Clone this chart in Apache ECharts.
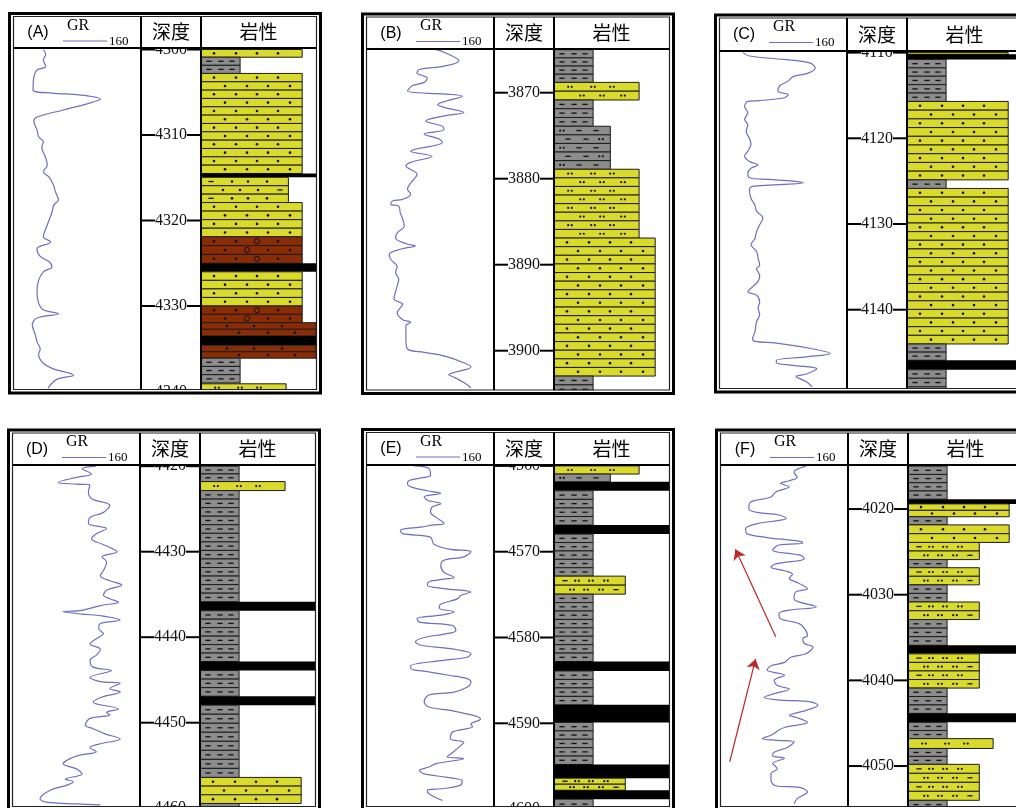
<!DOCTYPE html>
<html>
<head>
<meta charset="utf-8">
<title>GR logs</title>
<script src="https://cdn.jsdelivr.net/npm/echarts@6.0.0/dist/echarts.min.js"></script>
<style>
html, body { margin: 0; padding: 0; background: #fff; }
#logs { width: 1016px; height: 808px; }
</style>
</head>
<body>
<div id="logs"></div>
<script>
// GR curves: depth (m) and GR reading (0-160 scale)
const A_depth = [4300.0,4300.6,4301.2,4302.0,4302.4,4303.2,4304.7,4305.1,4305.3,4305.8,4306.3,4307.1,4307.9,4308.4,4309.4,4310.2,4310.8,4311.4,4312.7,4313.5,4314.3,4314.9,4315.9,4316.6,4317.6,4318.2,4319.0,4320.5,4321.9,4322.5,4323.3,4324.2,4324.8,4325.4,4326.0,4327.0,4328.3,4330.3,4330.9,4331.4,4332.2,4333.4,4334.2,4335.0,4335.7,4336.7,4337.3,4338.1,4338.5,4339.0,4339.6];
const A_gr = [37,40,37,40,29,25,24,48,82,109,94,61,29,25,29,31,37,35,40,42,37,44,50,52,56,50,48,42,37,46,29,33,44,48,37,31,29,35,56,29,23,27,29,33,31,37,48,75,56,48,43];

const B_depth = [3865.0,3865.3,3866.3,3866.9,3867.3,3867.7,3868.3,3868.8,3869.2,3869.8,3870.4,3871.4,3871.7,3872.3,3872.7,3873.3,3873.9,3874.3,3874.8,3875.4,3875.8,3876.8,3877.4,3878.1,3878.5,3879.5,3880.5,3881.2,3881.8,3882.4,3882.6,3883.0,3883.2,3884.0,3884.7,3885.5,3886.3,3886.9,3887.6,3887.8,3888.2,3888.8,3889.4,3890.2,3890.9,3891.7,3892.5,3894.0,3894.6,3895.6,3896.4,3896.7,3897.1,3898.7,3899.8,3900.2,3900.6,3901.4,3901.9,3902.8,3903.1,3903.7,3904.3];
const B_gr = [87,97,116,97,66,63,76,72,57,51,120,89,97,122,97,74,95,97,72,91,95,55,82,55,49,63,55,51,55,45,32,30,40,42,45,47,38,36,51,61,42,28,30,38,36,40,38,34,45,38,45,55,49,49,51,72,97,122,131,103,110,122,131];

const C_depth = [4110.0,4110.4,4110.8,4111.2,4111.8,4112.4,4112.8,4113.3,4113.9,4114.5,4114.9,4115.3,4115.6,4115.7,4116.3,4117.0,4117.8,4118.4,4119.2,4120.0,4120.7,4121.5,4122.1,4122.7,4123.1,4123.5,4124.1,4124.6,4124.8,4125.0,4125.2,4125.6,4126.0,4127.0,4127.8,4128.5,4129.3,4130.1,4130.9,4131.7,4132.4,4133.2,4134.0,4134.8,4135.2,4136.0,4136.7,4137.5,4137.9,4138.3,4139.1,4139.8,4140.6,4141.4,4142.6,4143.4,4143.7,4143.9,4144.5,4145.1,4145.5,4145.9,4146.2,4146.5,4146.9,4147.5,4147.8,4148.4,4149.0];
const C_gr = [29,37,80,113,120,111,92,86,75,73,86,80,50,35,31,35,31,35,33,37,39,35,31,37,48,39,35,37,61,92,105,41,37,39,44,46,54,50,46,44,39,46,48,50,46,50,48,39,35,46,50,48,50,46,44,41,44,71,113,139,109,71,71,92,122,109,96,109,116];

const D_depth = [4420.0,4420.3,4420.9,4421.3,4421.9,4422.1,4422.2,4423.0,4423.8,4424.6,4425.4,4426.0,4426.7,4427.3,4427.9,4428.5,4429.1,4429.5,4430.0,4430.6,4431.2,4432.2,4432.8,4433.4,4433.9,4434.5,4435.1,4435.5,4435.9,4436.3,4436.9,4437.0,4437.3,4437.5,4438.0,4438.4,4439.0,4439.6,4440.0,4440.8,4441.4,4442.1,4442.7,4443.5,4443.9,4444.7,4445.2,4445.4,4446.0,4446.4,4447.0,4447.6,4448.4,4448.8,4449.1,4449.5,4450.3,4450.7,4451.3,4451.9,4452.5,4452.9,4453.4,4453.8,4454.2,4454.8,4455.4,4456.0,4456.6,4456.9,4457.3,4457.9,4458.9,4459.3,4459.5,4459.6];
const D_gr = [105,87,99,80,57,80,97,95,99,122,114,97,95,118,105,99,112,122,131,112,118,114,110,122,137,118,114,122,133,110,84,63,87,112,135,110,108,114,108,97,110,105,97,101,124,97,110,135,122,135,112,101,133,118,122,97,91,101,116,135,108,97,105,84,72,63,80,87,66,76,68,47,34,42,80,110];

const E_depth = [4560.0,4560.3,4561.1,4561.3,4561.7,4562.1,4562.5,4562.9,4563.2,4563.6,4564.0,4564.4,4564.8,4565.4,4566.0,4566.7,4566.9,4567.1,4567.5,4567.9,4568.3,4569.1,4569.7,4570.0,4570.6,4571.0,4571.6,4572.4,4573.0,4573.2,4573.5,4573.9,4574.3,4574.7,4575.1,4575.5,4576.1,4576.6,4577.0,4577.4,4577.8,4578.2,4578.6,4579.2,4579.6,4580.0,4580.5,4580.9,4581.3,4581.9,4582.3,4582.7,4583.3,4583.6,4584.0,4584.4,4584.8,4585.2,4585.8,4586.4,4586.7,4587.5,4588.1,4588.5,4589.1,4589.5,4590.1,4590.4,4591.0,4591.8,4592.2,4592.6,4593.4,4593.9,4594.1,4594.7,4595.1,4595.5,4595.9,4596.3,4596.7,4597.2,4597.6,4597.8,4598.2,4599.0];
const E_gr = [59,78,80,74,53,51,57,76,93,72,76,93,82,80,87,97,82,70,42,45,80,84,103,131,122,97,93,97,110,97,78,76,97,131,118,114,93,91,110,93,63,66,108,112,97,72,61,68,105,131,126,93,55,55,78,103,126,131,126,108,78,72,78,105,135,143,131,133,108,105,122,118,108,101,122,87,78,66,72,101,120,118,97,76,78,95];

const F_depth = [4015.0,4015.7,4016.3,4016.7,4017.0,4017.4,4018.0,4018.6,4019.2,4020.0,4020.4,4020.7,4021.1,4021.3,4021.7,4022.3,4022.9,4023.3,4023.8,4024.0,4024.2,4024.8,4025.4,4025.8,4026.4,4026.8,4027.2,4027.6,4028.1,4028.5,4028.9,4029.3,4029.7,4030.5,4031.4,4031.8,4032.2,4032.8,4033.4,4034.2,4034.8,4035.1,4035.7,4036.1,4036.9,4037.3,4037.9,4038.3,4038.8,4039.4,4040.0,4040.6,4041.0,4041.6,4042.0,4042.3,4042.5,4042.9,4043.5,4044.1,4044.3,4044.9,4045.5,4045.8,4046.4,4046.8,4047.0,4047.2,4047.8,4048.4,4048.8,4049.1,4049.7,4050.3,4050.9,4051.7,4052.3,4052.5,4053.0,4053.8,4054.4];
const F_gr = [107,92,96,86,75,86,69,63,37,35,46,73,82,75,46,31,33,56,101,103,73,65,101,105,69,63,80,90,86,94,103,109,94,92,120,86,73,75,99,107,109,103,105,116,107,88,80,63,58,80,67,71,86,65,54,75,113,122,107,86,94,109,80,73,63,52,71,92,84,67,65,80,65,71,63,63,69,99,109,96,92];

// trend arrows drawn on log F: [fromGR, fromDepth, toGR, toDepth]
const F_arrows = [[68.9, 4034.9, 18.2, 4024.7], [11.0, 4049.5, 43.6, 4037.5]];

// depth ticks (every 10 m) for each log
const A_ticks = [4300, 4310, 4320, 4330, 4340];
const B_ticks = [3870, 3880, 3890, 3900];
const C_ticks = [4110, 4120, 4130, 4140, 4150];
const D_ticks = [4420, 4430, 4440, 4450, 4460];
const E_ticks = [4560, 4570, 4580, 4590, 4600];
const F_ticks = [4020, 4030, 4040, 4050];

// lithology layers: [top, bottom, kind]
const A_layers = [
  [4300.0, 4300.9, 'fs'], [4300.9, 4302.8, 'mud'], [4302.8, 4314.5, 'fs'], [4314.5, 4314.95, 'coal'],
  [4314.95, 4317.9, 'mfs'], [4317.9, 4321.9, 'fs'], [4321.9, 4325.0, 'cg'], [4325.0, 4326.0, 'coal'],
  [4326.0, 4330.0, 'fs'], [4330.0, 4331.95, 'cg'], [4331.95, 4333.5, 'cs'], [4333.5, 4334.6, 'coal'],
  [4334.6, 4336.1, 'cs'], [4336.1, 4339.0, 'mud'], [4339.1, 4340.0, 'silt']
];
const B_layers = [
  [3865.0, 3868.8, 'mud'], [3868.8, 3870.85, 'silt'], [3870.85, 3873.9, 'mud'], [3873.9, 3878.9, 'smud'],
  [3878.9, 3886.9, 'silt'], [3886.9, 3902.95, 'fs'], [3902.95, 3905.0, 'mud']
];
const C_layers = [
  [4110.0, 4110.2, 'fs'], [4110.2, 4110.8, 'coal'], [4110.8, 4115.7, 'mud'], [4115.7, 4124.85, 'fs'],
  [4124.85, 4125.85, 'mud'], [4125.85, 4144.0, 'fs'], [4144.0, 4145.9, 'mud'], [4145.9, 4147.0, 'coal'],
  [4147.0, 4150.0, 'mud']
];
const D_layers = [
  [4420.0, 4421.8, 'mud'], [4421.8, 4422.85, 'silt'], [4422.85, 4435.85, 'mud'], [4435.85, 4436.9, 'coal'],
  [4436.9, 4442.85, 'mud'], [4442.85, 4443.9, 'coal'], [4443.9, 4446.9, 'mud'], [4446.9, 4447.95, 'coal'],
  [4447.95, 4456.4, 'mud'], [4456.4, 4459.45, 'fs'], [4459.45, 4460.0, 'mud']
];
const E_layers = [
  [4560.0, 4560.95, 'silt'], [4560.95, 4561.85, 'smud'], [4561.85, 4562.9, 'coal'], [4562.9, 4566.9, 'mud'],
  [4566.9, 4567.95, 'coal'], [4567.95, 4572.85, 'mud'], [4572.85, 4574.95, 'asilt'], [4574.95, 4582.8, 'mud'],
  [4582.8, 4583.9, 'coal'], [4583.9, 4587.85, 'mud'], [4587.85, 4589.9, 'coal'], [4589.9, 4594.8, 'mud'],
  [4594.8, 4596.4, 'coal'], [4596.4, 4597.8, 'asilt'], [4597.8, 4598.85, 'coal'], [4598.85, 4600.0, 'mud']
];
const F_layers = [
  [4015.0, 4018.85, 'mud'], [4018.85, 4019.4, 'coal'], [4019.4, 4020.9, 'fs'], [4020.9, 4021.85, 'mud'],
  [4021.85, 4023.9, 'fs'], [4023.9, 4025.9, 'asilt'], [4025.9, 4026.85, 'mud'], [4026.85, 4028.85, 'asilt'],
  [4028.85, 4030.85, 'mud'], [4030.85, 4032.9, 'asilt'], [4032.9, 4035.9, 'mud'], [4035.9, 4036.9, 'coal'],
  [4036.9, 4040.9, 'asilt'], [4040.9, 4043.85, 'mud'], [4043.85, 4044.9, 'coal'], [4044.9, 4046.8, 'mud'],
  [4046.8, 4047.95, 'silt'], [4047.95, 4049.8, 'mud'], [4049.8, 4054.0, 'asilt'], [4054.0, 4055.0, 'mud']
];

// lithology look: fill, grain-size width (0-100), symbol rows (d=dot p=double dot l=dash o=pebble, px offset)
const YEL = '#dada2c', GRY = '#8c8c8c', BRN = '#8a2c06';
const LITH = {
  mud:   { fill: GRY, grain: 34,  rows: [['l8', 'l20', 'l31'], ['l8', 'l20', 'l31']] },
  smud:  { fill: GRY, grain: 49,  rows: [['p8', 'l25', 'l42'], ['l14', 'l32', 'p47']] },
  asilt: { fill: YEL, grain: 62,  rows: [['l11', 'p23', 'p37', 'p52'], ['p18', 'p32', 'p47', 'l62']] },
  silt:  { fill: YEL, grain: 74,  rows: [['p16', 'p39', 'p58'], ['p28', 'p48', 'p69']] },
  mfs:   { fill: YEL, grain: 76,  rows: [['l10', 'd31', 'd47', 'd66'], ['d22', 'd39', 'd57', 'l79']] },
  fs:    { fill: YEL, grain: 88,  rows: [['d13', 'd35', 'd56', 'd77'], ['d24', 'd46', 'd67', 'd89']] },
  cg:    { fill: BRN, grain: 88,  rows: [['d13', 'd35', 'o56', 'd77'], ['d24', 'o46', 'd67', 'd89']] },
  cs:    { fill: BRN, grain: 100, rows: [['d26', 'd53', 'd81'], ['d38', 'd67', 'd94']] },
  coal:  { fill: '#000', grain: 100, rows: [[], []] }
};
const KIND_LIST = Object.keys(LITH);
const GR_COLOR = '#6e6ec2';

function addMark(code, x0, cy, w, out) {
  const t = code[0], dx = +code.slice(1);
  if (dx > w - 3) return;
  const x = x0 + dx;
  if (t === 'd') {
    out.push({ type: 'circle', shape: { cx: x, cy: cy, r: 1.3 }, style: { fill: '#111' } });
  } else if (t === 'p') {
    out.push({ type: 'circle', shape: { cx: x - 1.8, cy: cy, r: 1.1 }, style: { fill: '#111' } });
    out.push({ type: 'circle', shape: { cx: x + 1.8, cy: cy, r: 1.1 }, style: { fill: '#111' } });
  } else if (t === 'l') {
    out.push({ type: 'line', shape: { x1: x - 2.6, y1: cy, x2: x + 2.6, y2: cy }, style: { stroke: '#111', lineWidth: 1.3 } });
  } else if (t === 'o') {
    out.push({ type: 'circle', shape: { cx: x, cy: cy, r: 2.6 }, style: { fill: 'none', stroke: '#111', lineWidth: 1 } });
  }
}

function renderLayer(params, api) {
  const top = api.value(0), bot = api.value(1);
  const kind = KIND_LIST[api.value(2)];
  const st = LITH[kind];
  const a = api.coord([0, top]), b = api.coord([st.grain, bot]);
  const x0 = a[0], w = b[0] - a[0], y0 = a[1], h = b[1] - a[1];
  if (kind === 'coal') {
    return { type: 'rect', shape: { x: x0, y: y0, width: w, height: h }, style: { fill: '#000' } };
  }
  let n = Math.max(1, Math.round(bot - top));
  if (kind === 'asilt') n = Math.max(2, n);
  const sh = h / n, kids = [];
  for (let i = 0; i < n; i++) {
    const y = y0 + i * sh;
    kids.push({ type: 'rect', shape: { x: x0, y: y, width: w, height: sh },
      style: { fill: st.fill, stroke: '#1c1c1c', lineWidth: 1 } });
    if (sh < 5) continue;
    st.rows[i % 2].forEach(c => addMark(c, x0, y + sh / 2, w, kids));
  }
  return { type: 'group', children: kids };
}

// short dashes from both walls of the depth column at each tick
function renderTick(params, api) {
  const y = api.coord([0, api.value(0)])[1];
  const cs = params.coordSys;
  return {
    type: 'group',
    children: [
      { type: 'line', shape: { x1: cs.x, y1: y, x2: cs.x + 14, y2: y }, style: { stroke: '#000', lineWidth: 2 } },
      { type: 'line', shape: { x1: cs.x + cs.width - 14, y1: y, x2: cs.x + cs.width, y2: y }, style: { stroke: '#000', lineWidth: 2 } }
    ]
  };
}

// panel layout: gx = left of GR column, y0 = pixel of min depth, ppm = pixels per metre
const PANELS = [
  { tag: '(A)', depth: A_depth, gr: A_gr, layers: A_layers, ticks: A_ticks, min: 4300, max: 4340, gx: 14,  y0: 49.5,  ppm: 8.55,  hdrTop: 16.5, hdrBot: 48, plotB: 389.5 },
  { tag: '(B)', depth: B_depth, gr: B_gr, layers: B_layers, ticks: B_ticks, min: 3865, max: 3905, gx: 367, y0: 49.7,  ppm: 8.6,   hdrTop: 17,   hdrBot: 49, plotB: 390 },
  { tag: '(C)', depth: C_depth, gr: C_gr, layers: C_layers, ticks: C_ticks, min: 4110, max: 4150, gx: 720, y0: 52.6,  ppm: 8.57,  hdrTop: 18,   hdrBot: 51, plotB: 388.5 },
  { tag: '(D)', depth: D_depth, gr: D_gr, layers: D_layers, ticks: D_ticks, min: 4420, max: 4460, gx: 13,  y0: 466.2, ppm: 8.55,  hdrTop: 433,  hdrBot: 465, plotB: 806.5 },
  { tag: '(E)', depth: E_depth, gr: E_gr, layers: E_layers, ticks: E_ticks, min: 4560, max: 4600, gx: 367, y0: 465.9, ppm: 8.58,  hdrTop: 432.5, hdrBot: 465, plotB: 806.5 },
  { tag: '(F)', depth: F_depth, gr: F_gr, layers: F_layers, ticks: F_ticks, min: 4015, max: 4055, gx: 721, y0: 466.2, ppm: 8.567, hdrTop: 433,  hdrBot: 465, plotB: 806.5 }
];

const grid = [], xAxis = [], yAxis = [], series = [], elements = [];

PANELS.forEach((p, i) => {
  const k = i * 3;
  const h = (p.max - p.min) * p.ppm;
  const dmin = Math.floor(p.min / 10) * 10, dmax = Math.ceil(p.max / 10) * 10;
  const hidden = { show: false };

  grid.push({ left: p.gx, top: p.y0, width: 127, height: h, containLabel: false, outerBoundsMode: 'none' });
  grid.push({ left: p.gx + 127, top: p.y0 - (p.min - dmin) * p.ppm, width: 60, height: (dmax - dmin) * p.ppm, containLabel: false, outerBoundsMode: 'none' });
  grid.push({ left: p.gx + 187, top: p.y0, width: 115, height: h, containLabel: false, outerBoundsMode: 'none' });

  // GR track
  xAxis.push(Object.assign({ gridIndex: k, type: 'value', min: 0, max: 160 }, hidden));
  yAxis.push(Object.assign({ gridIndex: k, type: 'value', min: p.min, max: p.max, inverse: true }, hidden));

  // depth track: label in the middle of the column
  xAxis.push(Object.assign({ gridIndex: k + 1, type: 'value', min: 0, max: 1 }, hidden));
  yAxis.push({
    gridIndex: k + 1, type: 'value', min: dmin, max: dmax, interval: 10, inverse: true,
    axisLine: { show: false }, axisTick: { show: false }, splitLine: { show: false },
    axisLabel: {
      inside: true, margin: 30, align: 'center',
      fontFamily: 'Liberation Serif', fontSize: 16, color: '#111',
      formatter: v => (v < p.min || v > p.max) ? '' : String(v)
    }
  });

  // lithology track
  xAxis.push(Object.assign({ gridIndex: k + 2, type: 'value', min: 0, max: 100 }, hidden));
  yAxis.push(Object.assign({ gridIndex: k + 2, type: 'value', min: p.min, max: p.max, inverse: true }, hidden));

  const line = {
    type: 'line', xAxisIndex: k, yAxisIndex: k, silent: true, z: 3,
    data: p.depth.map((d, j) => [p.gr[j], d]),
    symbol: 'none', smooth: 0.35,
    lineStyle: { color: GR_COLOR, width: 1.2 }
  };
  if (p.tag === '(F)') {
    line.markLine = {
      silent: true, symbol: ['none', 'arrow'], symbolSize: 10, animation: false,
      label: { show: false },
      lineStyle: { color: '#b82a2a', width: 1.2, type: 'solid' },
      data: F_arrows.map(a => [{ coord: [a[0], a[1]] }, { coord: [a[2], a[3]] }])
    };
  }
  series.push(line);
  series.push({
    type: 'custom', xAxisIndex: k + 1, yAxisIndex: k + 1, silent: true, z: 50,
    renderItem: renderTick,
    encode: { y: 0 },
    data: p.ticks.map(t => [t])
  });
  series.push({
    type: 'custom', xAxisIndex: k + 2, yAxisIndex: k + 2, silent: true,
    renderItem: renderLayer,
    encode: { y: [0, 1] },
    data: p.layers.map(l => [l[0], l[1], KIND_LIST.indexOf(l[2])])
  });

  // white covers for label overflow, then frame and header on top
  const L = p.gx - 0.5, R = p.gx + 302.5;
  elements.push(
    { type: 'rect', z: 90, shape: { x: p.gx - 8, y: p.hdrTop - 38, width: 322, height: 35 }, style: { fill: '#fff' } },
    { type: 'rect', z: 90, shape: { x: p.gx - 8, y: p.plotB + 0.5, width: 322, height: 38 }, style: { fill: '#fff' } },
    { type: 'rect', z: 90, shape: { x: p.gx, y: p.hdrTop, width: 302, height: p.hdrBot - p.hdrTop }, style: { fill: '#fff' } },
    { type: 'rect', z: 100, shape: { x: p.gx - 4.5, y: p.hdrTop - 3, width: 311, height: p.plotB - p.hdrTop + 6.5 }, style: { fill: 'none', stroke: '#000', lineWidth: 3 } },
    { type: 'rect', z: 100, shape: { x: L, y: p.hdrTop, width: R - L, height: p.plotB - p.hdrTop }, style: { fill: 'none', stroke: '#222', lineWidth: 1.2 } },
    { type: 'line', z: 100, shape: { x1: L, y1: p.hdrBot, x2: R, y2: p.hdrBot }, style: { stroke: '#000', lineWidth: 2 } },
    { type: 'line', z: 100, shape: { x1: p.gx + 127, y1: p.hdrTop, x2: p.gx + 127, y2: p.plotB }, style: { stroke: '#000', lineWidth: 2 } },
    { type: 'line', z: 100, shape: { x1: p.gx + 187, y1: p.hdrTop, x2: p.gx + 187, y2: p.plotB }, style: { stroke: '#000', lineWidth: 2 } },
    { type: 'line', z: 100, shape: { x1: p.gx + 49, y1: p.hdrTop + 24.5, x2: p.gx + 93, y2: p.hdrTop + 24.5 }, style: { stroke: GR_COLOR, lineWidth: 1 } },
    { type: 'text', z: 100, x: p.gx + 24, y: p.hdrTop + 16.5,
      style: { text: p.tag, font: '16px "Liberation Sans"', fill: '#000', textAlign: 'center', textVerticalAlign: 'middle' } },
    { type: 'text', z: 100, x: p.gx + 53, y: p.hdrTop + 9,
      style: { text: 'GR', font: '16px "Liberation Serif"', fill: '#000', textAlign: 'left', textVerticalAlign: 'middle' } },
    { type: 'text', z: 100, x: p.gx + 95, y: p.hdrTop + 25,
      style: { text: '160', font: '13px "Liberation Serif"', fill: '#000', textAlign: 'left', textVerticalAlign: 'middle' } },
    { type: 'text', z: 100, x: p.gx + 157, y: (p.hdrTop + p.hdrBot) / 2,
      style: { text: '深度', font: '19px "Noto Sans CJK SC"', fill: '#000', textAlign: 'center', textVerticalAlign: 'middle' } },
    { type: 'text', z: 100, x: p.gx + 244.5, y: (p.hdrTop + p.hdrBot) / 2,
      style: { text: '岩性', font: '19px "Noto Sans CJK SC"', fill: '#000', textAlign: 'center', textVerticalAlign: 'middle' } }
  );
});

const chart = echarts.init(document.getElementById('logs'));
chart.setOption({
  backgroundColor: '#fff',
  animation: false,
  grid: grid,
  xAxis: xAxis,
  yAxis: yAxis,
  series: series,
  graphic: { elements: elements }
});
</script>
</body>
</html>
